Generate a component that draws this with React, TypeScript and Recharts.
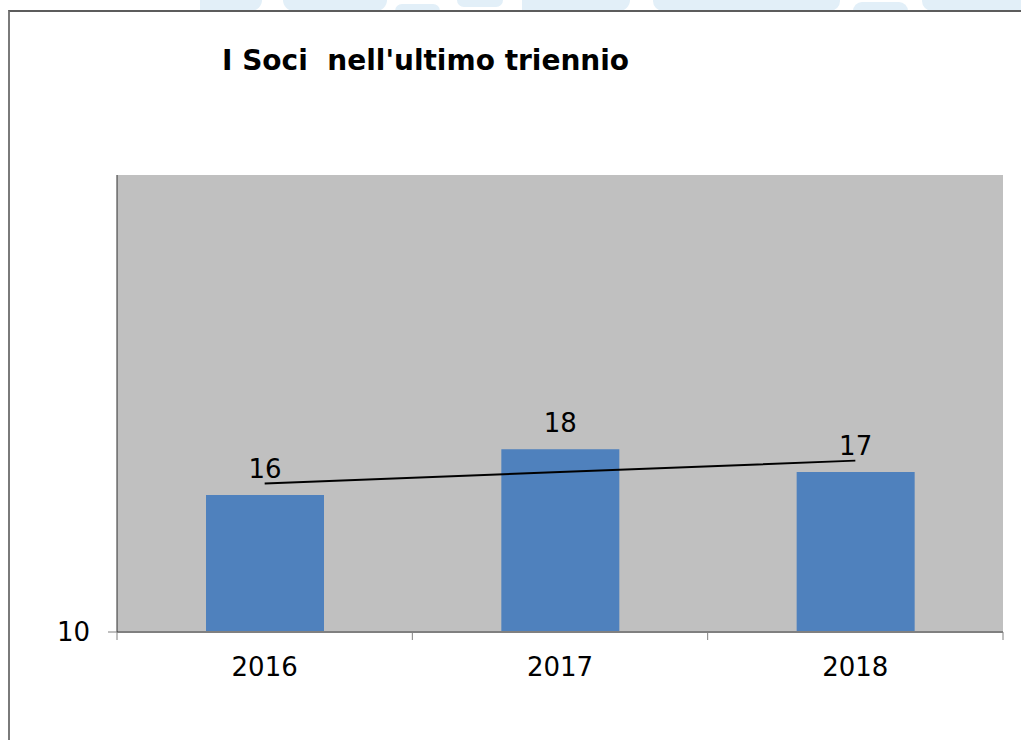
import React from "react";
import { ComposedChart, Bar, Line, XAxis, YAxis, CartesianGrid, LabelList } from "recharts";

const years = ["2016", "2017", "2018"];
const soci = [16, 18, 17];
const trend = [16.5, 17, 17.5];
const yTicks = [10];

const data = years.map((y, i) => ({ year: y, soci: soci[i], trend: trend[i] }));

const FONT = "'DejaVu Sans', Verdana, sans-serif";

const decor = [
  { l: 200, w: 62, t: 0, h: 11, r: "0 0 30px 0" },
  { l: 283, w: 104, t: 0, h: 11, r: "0 0 20px 20px" },
  { l: 395, w: 45, t: 4, h: 7, r: "20px 20px 0 0" },
  { l: 457, w: 46, t: 0, h: 7, r: "0 0 20px 20px" },
  { l: 522, w: 108, t: 0, h: 11, r: "0 0 20px 0" },
  { l: 653, w: 187, t: 0, h: 11, r: "0 0 10px 10px" },
  { l: 853, w: 55, t: 2, h: 9, r: "25px 25px 0 0" },
  { l: 922, w: 99, t: 0, h: 11, r: "0 0 0 10px" },
];

function XTick(props: any) {
  const { x, y, payload, index, visibleTicksCount } = props;
  const half = payload && payload.offset ? payload.offset : 0;
  const axisY = y - 26;
  const last = index === (visibleTicksCount ?? years.length) - 1;
  return (
    <g>
      <line x1={x - half} x2={x - half} y1={axisY} y2={axisY + 8} stroke="#808080" strokeWidth={1} />
      {last ? <line x1={x + half} x2={x + half} y1={axisY} y2={axisY + 8} stroke="#808080" strokeWidth={1} /> : null}
      <text x={x} y={y} dy="0.71em" textAnchor="middle" fontFamily={FONT} fontSize={26} fill="#000">
        {payload.value}
      </text>
    </g>
  );
}

export default function App() {
  return (
    <div style={{ position: "absolute", left: 0, top: 0, width: 1021, height: 740, overflow: "hidden", background: "#fff" }}>
      {decor.map((d, i) => (
        <div key={i} style={{ position: "absolute", left: d.l, top: d.t, width: d.w, height: d.h, background: "#e2eff8", borderRadius: d.r }} />
      ))}
      <div style={{ position: "absolute", left: 8, top: 10, width: 1030, height: 740, borderTop: "2px solid #5c5c5c", borderLeft: "2px solid #7a7a7a" }} />
      <div style={{ position: "absolute", left: 222, top: 47, fontFamily: FONT, fontWeight: "bold", fontSize: 28, lineHeight: "28px", whiteSpace: "pre", color: "#000" }}>
        {"I Soci  nell'ultimo triennio"}
      </div>
      <div style={{ position: "absolute", left: 0, top: 0 }}>
        <ComposedChart width={1021} height={740} data={data} margin={{ top: 175, right: 18, bottom: 48, left: 0 }}>
          <CartesianGrid horizontal={false} vertical={false} fill="#c0c0c0" stroke="none" />
          <XAxis dataKey="year" height={60} axisLine={{ stroke: "#808080", strokeWidth: 2 }} tickLine={false} tickSize={8} tickMargin={18} tick={<XTick />} interval={0} />
          <YAxis type="number" domain={[10, 30]} ticks={yTicks} width={117} axisLine={{ stroke: "#303030", strokeWidth: 1 }} tickLine={{ stroke: "#808080" }} tickSize={9} tickMargin={18} tick={{ fontFamily: FONT, fontSize: 26, fill: "#000" }} />
          <Bar dataKey="soci" fill="#4f81bd" barSize={118} isAnimationActive={false}>
            <LabelList dataKey="soci" position="top" offset={17} style={{ fontFamily: FONT, fontSize: 26, fill: "#000" }} />
          </Bar>
          <Line dataKey="trend" stroke="#000" strokeWidth={2} dot={false} activeDot={false} isAnimationActive={false} />
        </ComposedChart>
      </div>
    </div>
  );
}
